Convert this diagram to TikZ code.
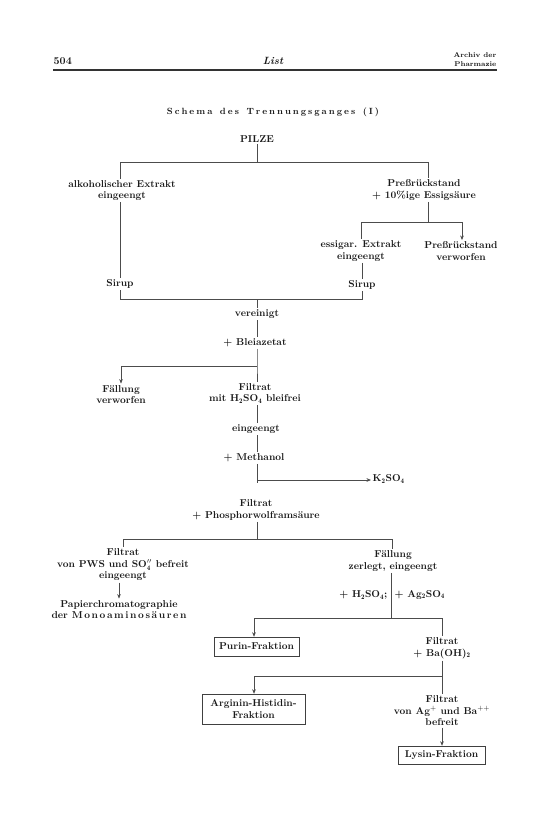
\documentclass[tikz,border=0pt]{standalone}
\usepackage{fontspec}
\usetikzlibrary{arrows.meta}
\newcommand\chs[1]{$_{\mathbf{#1}}$}
\newdimen\lspgap
\def\lsp#1#2{\lspgap=#1\relax\lspA#2\relax}
\def\lspA#1{\ifx#1\relax\else#1\hskip\lspgap\relax\expandafter\lspA\fi}
\tikzset{
  txt/.style={align=center, font=\fontsize{10}{11.5}\selectfont\bfseries, inner sep=1.5pt, text=black!90},
  fbox/.style={txt, draw=black!75, line width=0.5pt, inner sep=0pt},
  ln/.style={draw=black!70, line width=0.55pt},
  arr/.style={ln, -{Stealth[length=4.5pt,width=3.6pt]}},
}
\begin{document}
\begin{tikzpicture}[x=1pt,y=-1pt]
\useasboundingbox (0,0) rectangle (559,825);
\coordinate (cx) at (257,0);
% header
\node[txt, anchor=west, font=\fontsize{10.5}{12}\selectfont\bfseries] (p504) at (52,61) {504};
\node[txt, font=\fontsize{10.5}{12}\selectfont\bfseries\itshape] (plist) at (273,61) {List};
\node[txt, anchor=east, align=right, font=\fontsize{7}{9}\selectfont\bfseries] (parch) at (498,59.5) {Archiv der\\Pharmazie};
\coordinate (r1) at (53,70);
\coordinate (r2) at (497,70);
\draw[draw=black!80, line width=1.3pt] (r1) -- (r2);
% title
\node[txt, font=\fontsize{9}{10}\selectfont\bfseries] (title) at (274,112) {\lsp{2pt}{Schema~des~Trennungsganges~(I)}};
% nodes
\node[txt] (pilze) at (257,139) {PILZE};
\node[txt] (alk) at (122,190.5) {alkoholischer Extrakt\\eingeengt};
\node[txt] (press) at (424,190) {Preßrückstand\\+ 10\%ige Essigsäure};
\node[txt] (essig) at (361,251) {essigar. Extrakt\\eingeengt};
\node[txt] (pverw) at (461,251) {Preßrückstand\\verworfen};
\node[txt] (sirL) at (120,284) {Sirup};
\node[txt] (sirR) at (362,285) {Sirup};
\node[txt] (verein) at (257,314) {vereinigt};
\node[txt] (blei) at (255,343) {+ Bleiazetat};
\node[txt] (faell) at (121,394.5) {Fällung\\verworfen};
\node[txt] (filt1) at (255,393.5) {Filtrat\\mit H\chs{2}SO\chs{4} bleifrei};
\node[txt] (eing2) at (256,429) {eingeengt};
\node[txt] (meth) at (254,458) {+ Methanol};
\node[txt, anchor=west] (kso) at (371,479) {K\chs{2}SO\chs{4}};
\node[txt] (filt2) at (256,510) {Filtrat\\+ Phosphorwolframsäure};
\node[txt] (filtL) at (123,565) {Filtrat\\von PWS und SO$_{\mathbf 4}''$ befreit\\eingeengt};
\node[txt] (papier) at (119,609.5) {Papierchromatographie\\der \lsp{1.6pt}{Monoaminosäuren}};
\node[txt] (faellR) at (393,561) {Fällung\\zerlegt, eingeengt};
\node[txt, anchor=east] (hso) at (389,595) {+ H\chs{2}SO\chs{4};};
\node[txt, anchor=west] (agso) at (393,595) {+ Ag\chs{2}SO\chs{4}};
\node[fbox, minimum width=85pt, minimum height=19pt] (purin) at (256.5,646.5) {Purin-Fraktion};
\node[txt] (filt3) at (442,648.5) {Filtrat\\+ Ba(OH)\chs{2}};
\node[fbox, minimum width=103pt, minimum height=30pt] (argin) at (253.5,709) {Arginin-Histidin-\\Fraktion};
\node[txt] (filt4) at (442,711) {Filtrat\\von Ag$^{+}$ und Ba$^{++}$\\befreit};
\node[fbox, minimum width=87pt, minimum height=18pt] (lysin) at (441.5,755) {Lysin-Fraktion};
% junction coordinates
\coordinate (j1) at (257,162);
\coordinate (j1l) at (120,162);
\coordinate (j1r) at (428,162);
\coordinate (j2) at (428,222);
\coordinate (j2l) at (361,222);
\coordinate (j2r) at (462,222);
\coordinate (j3l) at (120,299);
\coordinate (j3r) at (362,299);
\coordinate (j3) at (257,299);
\coordinate (j4) at (257,366);
\coordinate (j4l) at (121,366);
\coordinate (j5) at (257,480);
\coordinate (j5e) at (257,483);
\coordinate (j6) at (257,539);
\coordinate (j6l) at (123,539);
\coordinate (j6r) at (392,539);
\coordinate (j7) at (391,618);
\coordinate (j7l) at (254,618);
\coordinate (j7r) at (442,618);
\coordinate (j8) at (442,676);
\coordinate (j8l) at (254,676);
% connectors
\draw[ln] (pilze.south -| cx) -- (j1);
\draw[ln] (j1l) -- (j1r);
\draw[ln] (j1l) -- (alk.north -| j1l);
\draw[ln] (alk.south -| j1l) -- (sirL.north -| j1l);
\draw[ln] (sirL.south -| j1l) -- (j3l) -- (j3r) -- (sirR.south -| j3r);
\draw[ln] (j1r) -- (press.north -| j1r);
\draw[ln] (press.south -| j1r) -- (j2);
\draw[ln] (j2l) -- (j2r);
\draw[ln] (j2l) -- (essig.north -| j2l);
\draw[arr] (j2r) -- (pverw.north -| j2r);
\draw[ln] (essig.south -| j3r) -- (sirR.north -| j3r);
\draw[ln] (j3) -- (verein.north -| cx);
\draw[ln] (verein.south -| cx) -- (blei.north -| cx);
\draw[ln] (blei.south -| cx) -- (j4) -- (filt1.north -| cx);
\draw[arr] (j4) -- (j4l) -- (faell.north -| j4l);
\draw[ln] (filt1.south -| cx) -- (eing2.north -| cx);
\draw[ln] (eing2.south -| cx) -- (meth.north -| cx);
\draw[ln] (meth.south -| cx) -- (j5e);
\draw[arr] (j5) -- (kso.west |- j5);
\draw[ln] (filt2.south -| cx) -- (j6);
\draw[ln] (j6l) -- (j6r);
\draw[ln] (j6l) -- (filtL.north -| j6l);
\draw[ln] (j6r) -- (faellR.north -| j6r);
\draw[arr] (filtL.south -| papier) -- (papier.north);
\draw[ln] (faellR.south -| j7) -- (j7);
\draw[ln] (j7l) -- (j7r);
\draw[arr] (j7l) -- (purin.north -| j7l);
\draw[ln] (j7r) -- (filt3.north -| j7r);
\draw[ln] (filt3.south -| j8) -- (j8);
\draw[ln] (j8l) -- (j8);
\draw[arr] (j8l) -- (argin.north -| j8l);
\draw[ln] (j8) -- (filt4.north -| j8);
\draw[arr] (filt4.south -| j8) -- (lysin.north -| j8);
\end{tikzpicture}
\end{document}
